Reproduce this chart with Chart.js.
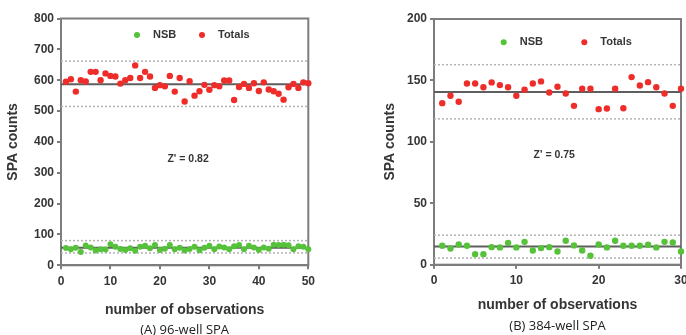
<!DOCTYPE html>
<html>
<head>
<meta charset="utf-8">
<title>SPA counts</title>
<script src="https://cdn.jsdelivr.net/npm/chart.js@4.4.1/dist/chart.umd.min.js"></script>
<style>
  html, body { margin: 0; padding: 0; background: #fff; overflow: hidden; }
  body { width: 686px; height: 335px; position: relative; }
  canvas { position: absolute; top: 0; }
  #chartA { left: 0; }
  #chartB { left: 343px; }
</style>
</head>
<body>
<canvas id="chartA" width="343" height="335"></canvas>
<canvas id="chartB" width="360" height="335"></canvas>
<script>
// (A) 96-well SPA, 50 observations
const totalsA = [595, 603, 563, 600, 596, 627, 627, 600, 622, 614,
                 612, 589, 600, 607, 648, 607, 627, 612, 575, 584,
                 580, 614, 563, 607, 531, 597, 550, 564, 585, 569,
                 584, 580, 599, 599, 536, 578, 588, 575, 590, 565,
                 593, 570, 564, 556, 537, 577, 588, 575, 593, 590];
const nsbA = [56, 52, 57, 43, 64, 58, 48, 52, 51, 68,
              60, 53, 50, 55, 47, 60, 63, 55, 66, 50,
              54, 66, 52, 57, 48, 53, 60, 49, 57, 63,
              52, 61, 58, 52, 62, 66, 52, 63, 58, 50,
              58, 54, 67, 66, 67, 65, 52, 62, 60, 52];
// lower limit, mean, upper limit
const totalsLinesA = [515, 587, 662];
const nsbLinesA = [40, 57, 80];

// (B) 384-well SPA, 30 observations
const totalsB = [131.5, 137.5, 132.6, 147.5, 147.5, 144.5, 148.4, 146.2, 144.5, 137.5,
                 142.4, 147.5, 149.2, 140.2, 144.8, 139.4, 129.3, 143.2, 143.2, 126.6,
                 127.1, 143.2, 127.4, 152.7, 145.9, 148.6, 144.5, 139.4, 129.3, 143.2];
const nsbB = [15.4, 13.2, 16.5, 15.4, 8.6, 8.6, 14.3, 14.1, 17.8, 14.1,
              18.6, 11.6, 13.5, 14.3, 10.8, 19.5, 15.7, 11.6, 7.3, 16.5,
              14.1, 19.5, 15.4, 15.4, 15.4, 16.2, 14.1, 18.6, 18.1, 10.8];
const totalsLinesB = [118.7, 140.5, 162.8];
const nsbLinesB = [5.4, 14.9, 24];

const seriesNames = ['NSB', 'Totals'];
const yTitle = 'SPA counts';
const xTitle = 'number of observations';

const RED = '#ee2d2a';
const GREEN = '#55c23a';
const AXIS = '#7d7d7d';
const INK = '#353535';
const FONT = '"Liberation Sans", Arial, sans-serif';

// frame, legend, Z' note and caption
const figurePlugin = {
    id: 'figure',
    beforeDatasetsDraw(chart, args, opts) {
        const { ctx, chartArea: a } = chart;
        ctx.save();
        ctx.strokeStyle = AXIS;
        ctx.lineWidth = 2;
        ctx.strokeRect(a.left, a.top, a.right - a.left, a.bottom - a.top);
        ctx.restore();
    },
    afterDraw(chart, args, opts) {
        const { ctx, chartArea: a, scales } = chart;
        ctx.save();
        ctx.fillStyle = INK;
        ctx.textBaseline = 'middle';

        // legend
        ctx.font = 'bold 11px ' + FONT;
        ctx.textAlign = 'left';
        let lx = a.left + opts.legendX;
        const ly = a.top + opts.legendY;
        chart.data.datasets.filter(d => d.inLegend).forEach(d => {
            ctx.beginPath();
            ctx.fillStyle = d.backgroundColor;
            ctx.arc(lx, ly, 3, 0, Math.PI * 2);
            ctx.fill();
            ctx.fillStyle = INK;
            ctx.fillText(d.label, lx + 16, ly);
            lx += opts.legendGap;
        });

        // Z' value
        ctx.font = 'bold 10.5px ' + FONT;
        ctx.textAlign = 'center';
        ctx.fillText(opts.note,
            scales.x.getPixelForValue(opts.noteAt[0]),
            scales.y.getPixelForValue(opts.noteAt[1]));

        // caption
        ctx.font = '13px "Open Sans", sans-serif';
        ctx.fillStyle = '#222';
        ctx.fillText(opts.caption, (a.left + a.right) / 2, opts.captionY);
        ctx.restore();
    }
};

function buildChart(canvasId, cfg) {
    const points = vals => vals.map((v, i) => ({ x: i + 1, y: v }));
    const flat = v => [{ x: 0, y: v }, { x: cfg.xMax, y: v }];
    const refLines = lines => lines.map((v, i) => ({
        type: 'line',
        data: flat(v),
        borderColor: i === 1 ? '#5e5e5e' : '#b3b3b3',
        borderWidth: i === 1 ? 2 : 1.5,
        borderDash: i === 1 ? [] : [2, 2],
        pointRadius: 0,
        showLine: true,
        order: 2
    }));

    return new Chart(document.getElementById(canvasId), {
        type: 'scatter',
        data: {
            datasets: [
                { label: seriesNames[0], data: points(cfg.nsb), backgroundColor: GREEN, borderWidth: 0,
                  pointRadius: cfg.radius, clip: false, order: 0, inLegend: true },
                { label: seriesNames[1], data: points(cfg.totals), backgroundColor: RED, borderWidth: 0,
                  pointRadius: 3.2, clip: false, order: 0, inLegend: true },
                ...refLines(cfg.nsbLines),
                ...refLines(cfg.totalsLines)
            ]
        },
        options: {
            responsive: false,
            animation: false,
            layout: { autoPadding: false, padding: cfg.padding },
            plugins: {
                legend: { display: false },
                tooltip: { enabled: false },
                figure: cfg.figure
            },
            scales: {
                x: {
                    type: 'linear', min: 0, max: cfg.xMax,
                    ticks: { stepSize: 10, color: INK, padding: 5, font: { family: FONT, size: 12, weight: 'bold' } },
                    grid: { drawOnChartArea: false, tickLength: 4, color: AXIS, lineWidth: 2 },
                    border: { color: AXIS, width: 2 },
                    title: { display: true, text: xTitle, color: INK,
                             padding: { top: 0, bottom: cfg.xTitlePad },
                             font: { family: FONT, size: 14, weight: 'bold' } },
                    afterFit: s => { s.height = cfg.xHeight; }
                },
                y: {
                    min: 0, max: cfg.yMax,
                    ticks: { stepSize: cfg.yStep, color: INK, padding: 3, font: { family: FONT, size: 12, weight: 'bold' } },
                    grid: { drawOnChartArea: false, tickLength: 4, color: AXIS, lineWidth: 2 },
                    border: { color: AXIS, width: 2 },
                    title: { display: true, text: yTitle, color: INK,
                             padding: { top: 4.6, bottom: 0 },
                             font: { family: FONT, size: 14, weight: 'bold' } },
                    afterFit: s => { s.width = cfg.yWidth; }
                }
            }
        },
        plugins: [figurePlugin]
    });
}

buildChart('chartA', {
    totals: totalsA, nsb: nsbA, totalsLines: totalsLinesA, nsbLines: nsbLinesA,
    xMax: 50, yMax: 800, yStep: 100, radius: 3,
    padding: { left: 0, top: 18.5, right: 34.7, bottom: 0 },
    yWidth: 61, xHeight: 69.7, xTitlePad: 16.9,
    figure: { legendX: 76, legendY: 16.5, legendGap: 65,
              note: "Z' = 0.82", noteAt: [25.7, 345],
              caption: '(A) 96-well SPA', captionY: 330 }
});

buildChart('chartB', {
    totals: totalsB, nsb: nsbB, totalsLines: totalsLinesB, nsbLines: nsbLinesB,
    xMax: 30, yMax: 200, yStep: 50, radius: 3.2,
    padding: { left: 34, top: 19, right: 22, bottom: 0 },
    yWidth: 57, xHeight: 70.3, xTitlePad: 21.9,
    figure: { legendX: 69.7, legendY: 23.3, legendGap: 80.6,
              note: "Z' = 0.75", noteAt: [14.6, 89.3],
              caption: '(B) 384-well SPA', captionY: 326 }
});
</script>
</body>
</html>
